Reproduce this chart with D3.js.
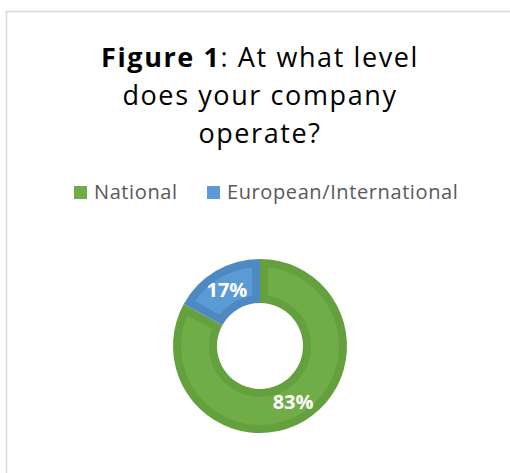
<!DOCTYPE html>
<html>
<head>
<meta charset="utf-8">
<script src="https://cdn.jsdelivr.net/npm/d3@7"></script>
<style>
  html, body { margin: 0; padding: 0; background: #fff; }
  svg { display: block; }
</style>
</head>
<body>
<svg id="chart" width="510" height="473"></svg>
<script>
// Survey answers: level at which companies operate
const categories = ["National", "European/International"];
const shares = [83, 17];
const fills = ["#70AD47", "#5B9BD5"];
const edges = ["#64A03E", "#4F89C2"];

const svg = d3.select("#chart");
const font = "'Open Sans', 'Noto Sans', sans-serif";

// chart frame (runs past the right and bottom edges)
svg.append("rect")
  .attr("x", 6.5).attr("y", 11.5)
  .attr("width", 540).attr("height", 500)
  .attr("fill", "#fff")
  .attr("stroke", "#D9D9D9")
  .attr("stroke-width", 1.5);

// title
const title = svg.append("text")
  .attr("text-anchor", "middle")
  .attr("font-family", font)
  .attr("font-size", 27)
  .attr("letter-spacing", 1.6)
  .attr("fill", "#000");
const l1 = title.append("tspan").attr("x", 260).attr("y", 67);
l1.append("tspan").attr("font-weight", "bold").text("Figure 1");
l1.append("tspan").text(": At what level");
title.append("tspan").attr("x", 260).attr("y", 105).text("does your company");
title.append("tspan").attr("x", 260).attr("y", 143).text("operate?");

// legend
const legendX = [74, 207];
const legend = svg.append("g");
categories.forEach((c, i) => {
  legend.append("rect")
    .attr("x", legendX[i]).attr("y", 186)
    .attr("width", 13).attr("height", 13)
    .attr("fill", fills[i]);
  legend.append("text")
    .attr("x", legendX[i] + 20).attr("y", 199)
    .attr("font-family", font)
    .attr("font-size", 20)
    .attr("letter-spacing", 0.6)
    .attr("fill", "#595959")
    .text(c);
});

// doughnut
const cx = 260, cy = 346, R = 87, r = 43, inset = 8;
const pie = d3.pie().sort(null).value(d => d)(shares);

const outerArc = d3.arc().innerRadius(r).outerRadius(R);
const innerArc = d3.arc()
  .innerRadius(r + inset).outerRadius(R - inset)
  .padRadius(100).padAngle(2 * inset / 100);
const labelArc = d3.arc().innerRadius(r).outerRadius(R);

const g = svg.append("g").attr("transform", `translate(${cx},${cy})`);

g.selectAll("path.edge").data(pie).join("path")
  .attr("class", "edge")
  .attr("d", outerArc)
  .attr("fill", (d, i) => edges[i]);

g.selectAll("path.face").data(pie).join("path")
  .attr("class", "face")
  .attr("d", innerArc)
  .attr("fill", (d, i) => fills[i]);

g.selectAll("text.val").data(pie).join("text")
  .attr("class", "val")
  .attr("transform", d => `translate(${labelArc.centroid(d)})`)
  .attr("text-anchor", "middle")
  .attr("dy", "0.35em")
  .attr("font-family", font)
  .attr("font-weight", "bold")
  .attr("font-size", 20)
  .attr("fill", "#fff")
  .text(d => d.data + "%");
</script>
</body>
</html>
